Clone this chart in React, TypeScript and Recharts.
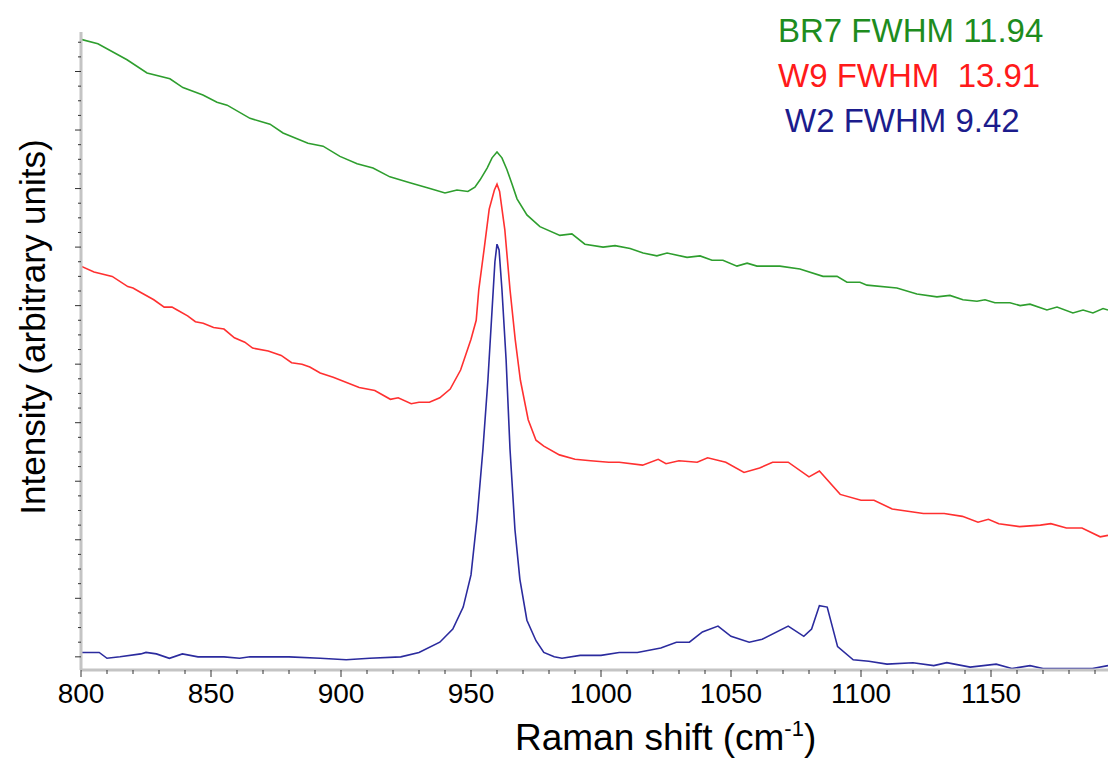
import { LineChart, Line, XAxis, YAxis } from "recharts";

const FONT = '"Liberation Sans", Arial, sans-serif';

// BR7 spectrum (green)
const br7Shift = [
  800, 806.5, 817.7, 825.4, 834.2, 839.2, 846.9, 852.3, 856.2, 865,
  868.8, 872.7, 877.7, 887.3, 893.1, 899.6, 906.2, 912.3, 918.8, 926.5,
  934.2, 940, 944.6, 948.8, 951.5, 953.5, 956.2, 958.1, 960, 961.9,
  963.8, 965.8, 967.7, 971.5, 976.5, 984.2, 988.8, 993.8, 1000.8, 1005.4,
  1011.2, 1016.2, 1021.5, 1025.4, 1033.1, 1038.1, 1042.7, 1046.9, 1052.3, 1056.2,
  1060, 1068.8, 1076.5, 1085.4, 1090.8, 1094.6, 1099.6, 1102.3, 1113.8, 1121.5,
  1129.2, 1134.2, 1139.2, 1144.6, 1147.7, 1151.5, 1157.3, 1161.2, 1165, 1171.5,
  1175.4, 1181.5, 1185.4, 1189.2, 1193.1, 1195,
];
const br7Intensity = [
  42.2, 41.9, 40.8, 39.9, 39.5, 38.9, 38.4, 37.9, 37.7, 36.8,
  36.6, 36.4, 35.8, 35.1, 34.9, 34.2, 33.7, 33.4, 32.8, 32.4,
  32.0, 31.7, 31.9, 31.8, 32.1, 32.6, 33.4, 34.1, 34.5, 34.1,
  33.3, 32.3, 31.3, 30.2, 29.4, 28.8, 28.9, 28.2, 28.0, 28.1,
  27.9, 27.6, 27.4, 27.6, 27.3, 27.4, 27.1, 27.1, 26.7, 26.9,
  26.7, 26.7, 26.5, 26.0, 26.0, 25.6, 25.6, 25.4, 25.2, 24.8,
  24.6, 24.7, 24.4, 24.3, 24.4, 24.2, 24.2, 24.0, 24.1, 23.7,
  23.9, 23.5, 23.7, 23.5, 23.8, 23.7,
];

// W9 spectrum (red)
const w9Shift = [
  800, 805, 812, 818, 820, 823, 828, 832, 835, 837,
  841, 844, 847, 851, 855, 859, 863, 866, 872, 877,
  881, 885, 888, 892, 897, 907, 913, 919, 922, 927,
  930, 934, 938, 942, 946, 950, 952, 953, 955, 957,
  959, 960, 961, 963, 965, 967, 969, 972, 975, 978,
  984, 990, 996, 1003, 1007, 1016, 1022, 1025, 1030, 1037,
  1041, 1048, 1055, 1061, 1066, 1072, 1080, 1084, 1092, 1100,
  1105, 1112, 1120, 1124, 1132, 1139, 1145, 1149, 1153, 1161,
  1169, 1173, 1179, 1185, 1192, 1195,
];
const w9Intensity = [
  26.7, 26.3, 26.0, 25.3, 25.2, 24.9, 24.4, 23.9, 23.9, 23.7,
  23.3, 22.9, 22.8, 22.5, 22.4, 21.8, 21.5, 21.1, 20.9, 20.6,
  20.1, 20.0, 19.8, 19.4, 19.1, 18.4, 18.2, 17.6, 17.7, 17.3,
  17.4, 17.4, 17.7, 18.3, 19.6, 21.7, 23.0, 25.1, 27.8, 30.6,
  31.9, 32.3, 31.8, 29.2, 25.1, 21.7, 18.9, 16.2, 14.8, 14.4,
  13.8, 13.5, 13.4, 13.3, 13.3, 13.1, 13.5, 13.2, 13.4, 13.3,
  13.6, 13.3, 12.6, 12.9, 13.3, 13.3, 12.3, 12.7, 11.1, 10.7,
  10.7, 10.1, 9.9, 9.8, 9.8, 9.6, 9.2, 9.4, 9.1, 8.9,
  9.0, 9.1, 8.8, 8.8, 8.2, 8.3,
];

// W2 spectrum (blue)
const w2Shift = [
  800, 807, 810, 815, 823, 825, 829, 834, 839, 845,
  855, 861, 865, 869, 880, 892, 902, 911, 923, 930,
  938, 943, 947, 950, 952.3, 954.6, 956.5, 958.1, 959.2, 960,
  960.8, 961.9, 963.5, 965, 966.9, 968.8, 971.5, 975, 978, 982,
  985, 992, 1000, 1007, 1014, 1023, 1029, 1034, 1039, 1045,
  1050, 1057, 1062, 1072, 1078, 1081, 1084, 1087, 1091, 1097,
  1103, 1110, 1120, 1128, 1133, 1142, 1152, 1158, 1165, 1170,
  1174, 1189, 1195,
];
const w2Intensity = [
  0.3, 0.3, -0.1, 0, 0.2, 0.3, 0.2, -0.1, 0.2, 0,
  0, -0.1, 0, 0, 0, -0.1, -0.2, -0.1, 0, 0.3,
  1.0, 1.9, 3.4, 5.6, 9.4, 14.2, 18.9, 23.7, 27.0, 28.2,
  27.8, 25.1, 20.3, 14.2, 8.7, 5.3, 2.5, 1.1, 0.3, 0,
  -0.1, 0.1, 0.1, 0.3, 0.3, 0.6, 1.0, 1.0, 1.7, 2.1,
  1.4, 1.0, 1.2, 2.1, 1.4, 1.9, 3.5, 3.4, 0.7, -0.2,
  -0.3, -0.5, -0.4, -0.6, -0.4, -0.7, -0.5, -0.8, -0.6, -0.8,
  -0.8, -0.8, -0.6,
];

const xTicks = [
  800, 810, 820, 830, 840, 850, 860, 870, 880, 890, 900, 910, 920, 930, 940,
  950, 960, 970, 980, 990, 1000, 1010, 1020, 1030, 1040, 1050, 1060, 1070,
  1080, 1090, 1100, 1110, 1120, 1130, 1140, 1150, 1160, 1170, 1180, 1190,
];
const yTicks = Array.from({ length: 43 }, (_, i) => i);

const legendItems = [
  { text: "BR7 FWHM 11.94", color: "#1e8c1e", x: 778, y: 42 },
  { text: "W9 FWHM  13.91", color: "#ff1a1a", x: 778, y: 87 },
  { text: "W2 FWHM 9.42", color: "#1c1c8c", x: 785, y: 132 },
];

const zip = (xs: number[], ys: number[]) => xs.map((x, i) => ({ shift: x, value: ys[i] }));
const br7 = zip(br7Shift, br7Intensity);
const w9 = zip(w9Shift, w9Intensity);
const w2 = zip(w2Shift, w2Intensity);

const XTick = (props: any) => {
  const { x, y, payload } = props;
  const major = payload.value % 50 === 0;
  return (
    <g>
      <line x1={x} x2={x} y1={y} y2={y + (major ? 7 : 4)} stroke="#333" strokeWidth={1} />
      {major && (
        <text x={x} y={y + 33} textAnchor="middle" fontSize={28} fontFamily={FONT} fill="#000">
          {payload.value}
        </text>
      )}
    </g>
  );
};

const YTick = (props: any) => {
  const { x, y, payload } = props;
  const major = payload.value % 4 === 0;
  return <line x1={x - (major ? 6 : 3)} x2={x} y1={y} y2={y} stroke="#333" strokeWidth={1} />;
};

const App = () => {
  return (
    <div style={{ position: "absolute", left: 0, top: 0, width: 1108, height: 767, background: "#fff" }}>
      <LineChart width={1108} height={767} margin={{ top: 32, right: 0, bottom: 0, left: 0 }}>
        <XAxis
          dataKey="shift"
          type="number"
          domain={[800, 1195]}
          ticks={xTicks}
          interval={0}
          tick={<XTick />}
          tickLine={false}
          tickSize={0}
          tickMargin={0}
          height={97}
          axisLine={{ stroke: "#c4c4c4", strokeWidth: 3 }}
          allowDataOverflow
        />
        <YAxis
          type="number"
          domain={[-0.9, 42.7]}
          ticks={yTicks}
          interval={0}
          tick={<YTick />}
          tickLine={false}
          tickSize={0}
          tickMargin={0}
          width={81}
          axisLine={{ stroke: "#c4c4c4", strokeWidth: 3 }}
          allowDataOverflow
        />
        <Line data={br7} dataKey="value" type="linear" stroke="#2e9e2e" strokeWidth={1.6} dot={false} isAnimationActive={false} />
        <Line data={w9} dataKey="value" type="linear" stroke="#ff3030" strokeWidth={1.6} dot={false} isAnimationActive={false} />
        <Line data={w2} dataKey="value" type="linear" stroke="#2b2b9e" strokeWidth={1.6} dot={false} isAnimationActive={false} />
      </LineChart>
      <svg width={1108} height={767} style={{ position: "absolute", left: 0, top: 0, pointerEvents: "none" }}>
        <text x={45} y={327} transform="rotate(-90 45 327)" textAnchor="middle" fontSize={35} fontFamily={FONT} fill="#000">
          Intensity (arbitrary units)
        </text>
        <text x={515} y={750} fontSize={37} fontFamily={FONT} fill="#000">
          Raman shift (cm
          <tspan fontSize={22} dy={-14}>-1</tspan>
          <tspan dy={14}>)</tspan>
        </text>
        {legendItems.map((d) => (
          <text key={d.text} x={d.x} y={d.y} fontSize={33} fontFamily={FONT} fill={d.color} style={{ whiteSpace: "pre" }}>
            {d.text}
          </text>
        ))}
      </svg>
    </div>
  );
};

export default App;
